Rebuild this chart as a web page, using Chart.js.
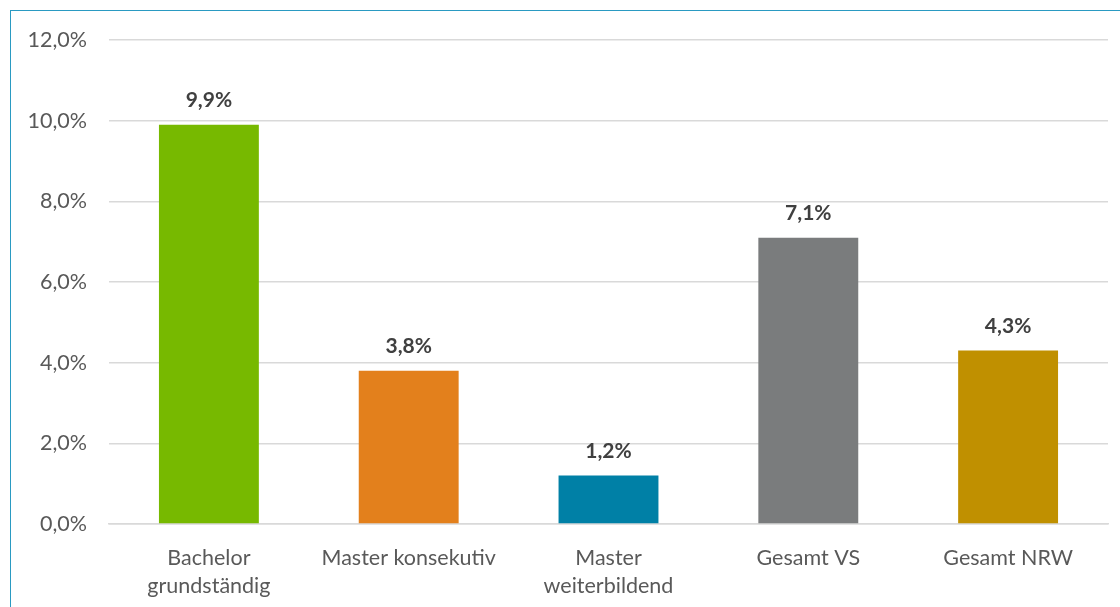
<!DOCTYPE html>
<html>
<head>
<meta charset="utf-8">
<script src="https://cdn.jsdelivr.net/npm/chart.js@4"></script>
<style>
    html, body { margin: 0; padding: 0; background: #fff; overflow: hidden; }
    #wrap { position: relative; width: 1120px; height: 607px; }
    #frame { position: absolute; left: 10px; top: 10px; width: 1120px; height: 620px; border: 1px solid #2a9ac2; box-sizing: border-box; pointer-events: none; }
</style>
</head>
<body>
<div id="wrap">
    <canvas id="barChart" width="1120" height="607"></canvas>
    <div id="frame"></div>
</div>
<script>
const categories = [["Bachelor", "grundständig"], "Master konsekutiv", ["Master", "weiterbildend"], "Gesamt VS", "Gesamt NRW"];
const values = [9.9, 3.8, 1.2, 7.1, 4.3];
const barColors = ["#77b900", "#e3801c", "#0080a6", "#7a7c7d", "#c09000"];
const yTicks = [0, 2, 4, 6, 8, 10, 12];

const fontFamily = "Lato, 'Open Sans', sans-serif";

function pct(v) {
    return v.toFixed(1).replace(".", ",") + "%";
}

// value labels above each bar
const valueLabels = {
    id: "valueLabels",
    afterDatasetsDraw(chart) {
        const ctx = chart.ctx;
        const meta = chart.getDatasetMeta(0);
        ctx.save();
        ctx.font = "bold 21px " + fontFamily;
        ctx.fillStyle = "#404040";
        ctx.textAlign = "center";
        ctx.textBaseline = "bottom";
        meta.data.forEach((bar, i) => {
            ctx.fillText(pct(values[i]), bar.x, bar.y - 14);
        });
        ctx.restore();
    }
};

const ctx = document.getElementById("barChart").getContext("2d");
new Chart(ctx, {
    type: "bar",
    data: {
        labels: categories,
        datasets: [{
            data: values,
            backgroundColor: barColors,
            barPercentage: 0.5,
            categoryPercentage: 1.0
        }]
    },
    options: {
        responsive: false,
        animation: false,
        layout: {padding: {top: 40, right: 12, left: 0, bottom: 0}},
        plugins: {legend: {display: false}, tooltip: {enabled: false}},
        scales: {
            y: {
                min: 0,
                max: 12,
                afterBuildTicks: axis => { axis.ticks = yTicks.map(v => ({value: v})); },
                afterFit: axis => { axis.width = 109; },
                grid: {color: "#d9d9d9", lineWidth: 1.5, drawTicks: false},
                border: {display: false},
                ticks: {
                    padding: 22,
                    color: "#595959",
                    font: {family: fontFamily, size: 21.5},
                    callback: v => pct(v)
                }
            },
            x: {
                afterFit: axis => { axis.height = 83; },
                grid: {display: false},
                border: {color: "#d9d9d9", width: 1.5},
                ticks: {
                    padding: 13,
                    color: "#595959",
                    maxRotation: 0,
                    autoSkip: false,
                    font: {family: fontFamily, size: 21.5, lineHeight: 1.26}
                }
            }
        }
    },
    plugins: [valueLabels]
});
</script>
</body>
</html>
